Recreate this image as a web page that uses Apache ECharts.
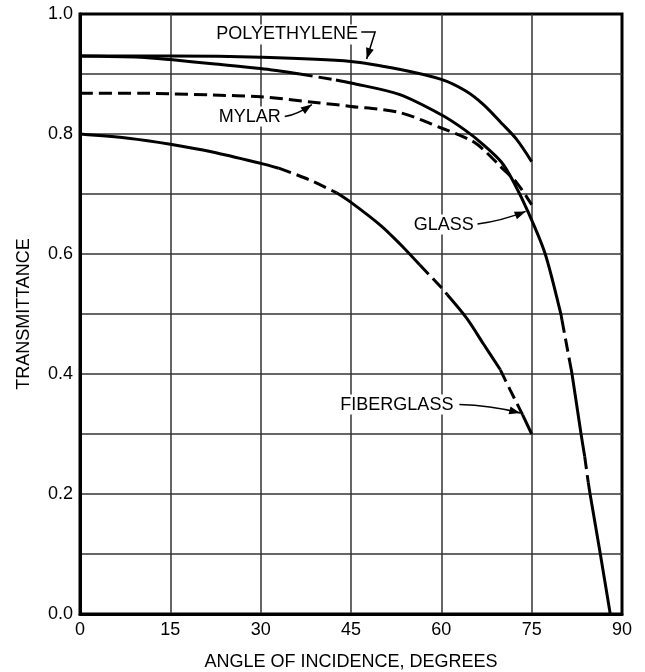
<!DOCTYPE html>
<html><head><meta charset="utf-8">
<script src="https://cdn.jsdelivr.net/npm/echarts@6/dist/echarts.min.js"></script>
<style>html,body{margin:0;padding:0;background:#fff}#c{width:645px;height:672px}</style>
</head><body><div id="c"></div>
<script>
// ---- data (angle in degrees, transmittance) ----
const polyX  = [0, 15, 30, 45, 53, 60, 64, 67, 70, 72.5, 75];
const polyY  = [0.930, 0.930, 0.928, 0.921, 0.908, 0.891, 0.872, 0.849, 0.818, 0.791, 0.754];

const glassX = [0, 10, 15, 22, 30, 36.5, 42.5, 45, 53, 60, 64, 67, 70, 72, 74.5, 77.25, 79.85, 80.03, 81.33, 81.7, 83.2, 83.8, 84.4, 84.7, 86.4, 88.05];
const glassY = [0.930, 0.928, 0.924, 0.917, 0.909, 0.900, 0.890, 0.885, 0.866, 0.832, 0.806, 0.782, 0.753, 0.720, 0.668, 0.600, 0.500, 0.490, 0.420, 0.400, 0.300, 0.263, 0.219, 0.200, 0.100, 0.000];

const mylarX = [0, 10, 15, 22, 30, 38.7, 45, 53, 60, 65, 67, 69.8, 72.5, 75];
const mylarY = [0.868, 0.868, 0.867, 0.865, 0.862, 0.853, 0.846, 0.836, 0.810, 0.789, 0.774, 0.746, 0.719, 0.682];

const fiberX = [0, 8, 15, 22, 30, 33, 38, 42.6, 45, 50, 53.1, 56.4, 60, 61, 64.2, 67, 69.8, 71.4, 73.5, 75];
const fiberY = [0.800, 0.793, 0.783, 0.770, 0.751, 0.743, 0.724, 0.702, 0.686, 0.647, 0.617, 0.582, 0.544, 0.532, 0.493, 0.450, 0.407, 0.374, 0.332, 0.300];

// x-ranges (matching data x values) where the printed curve is dashed
const polyDash  = [];
const glassDash = [[36.5, 42.5], [80.03, 81.33], [83.8, 84.4]];
const mylarDash = [[0, 75]];
const fiberDash = [[33, 42.6], [56.4, 61], [69.8, 73.5]];

const xTicks = {min: 0, max: 90, step: 15};
const yTicks = {min: 0, max: 1, step: 0.1};

const xTitle = 'ANGLE OF INCIDENCE, DEGREES';
const yTitle = 'TRANSMITTANCE';

// annotation labels: text, text anchor [x,y], arrow path in data coords
const notes = [
  {text: 'POLYETHYLENE', at: [22.3, 0.966], path: [[46.7, 0.970], [49.0, 0.970], [47.6, 0.925]], curve: false},
  {text: 'MYLAR',        at: [22.7, 0.829], path: [[34.0, 0.829], [36.0, 0.832], [38.5, 0.849]], curve: true},
  {text: 'GLASS',        at: [55.1, 0.649], path: [[66.0, 0.650], [70.0, 0.655], [74.0, 0.671]], curve: true},
  {text: 'FIBERGLASS',   at: [42.9, 0.349], path: [[63.0, 0.349], [68.0, 0.348], [73.1, 0.335]], curve: true}
];

const FONT = '"Liberation Sans", Arial, Helvetica, sans-serif';

function build(name, xs, ys, dashX) {
  let b = [0, xs.length - 1];
  dashX.forEach(r => { b.push(xs.indexOf(r[0])); b.push(xs.indexOf(r[1])); });
  b = [...new Set(b)].sort((p, q) => p - q);
  const dashedStarts = new Set(dashX.map(r => xs.indexOf(r[0])));
  const out = [];
  for (let k = 0; k < b.length - 1; k++) {
    const i = b[k], j = b[k + 1];
    const data = [];
    for (let m = i; m <= j; m++) data.push([xs[m], ys[m]]);
    out.push({
      type: 'line', name: name, data: data, showSymbol: false, symbol: 'none',
      smooth: 0.3, silent: true, animation: false, z: 3,
      lineStyle: {color: '#000', width: 3, type: dashedStarts.has(i) ? [13, 6] : 'solid', cap: 'butt'}
    });
  }
  return out;
}

const series = [].concat(
  build('POLYETHYLENE', polyX, polyY, polyDash),
  build('GLASS', glassX, glassY, glassDash),
  build('MYLAR', mylarX, mylarY, mylarDash),
  build('FIBERGLASS', fiberX, fiberY, fiberDash)
);

const chart = echarts.init(document.getElementById('c'), null, {renderer: 'canvas'});
chart.setOption({
  backgroundColor: '#fff',
  animation: false,
  grid: {left: 80, right: 23, top: 14, bottom: 58, show: true, borderColor: '#000', borderWidth: 3,
    backgroundColor: 'transparent', containLabel: false, outerBoundsMode: 'none'},
  xAxis: {
    type: 'value', min: xTicks.min, max: xTicks.max, interval: xTicks.step,
    name: xTitle, nameLocation: 'middle', nameGap: 39,
    nameTextStyle: {fontFamily: FONT, fontSize: 18, color: '#000'},
    axisLine: {show: true, lineStyle: {color: '#000', width: 3}},
    axisTick: {show: false},
    axisLabel: {fontFamily: FONT, fontSize: 18, color: '#000', margin: 7},
    splitLine: {show: true, showMinLine: false, showMaxLine: false, lineStyle: {color: '#333', width: 1.5}}
  },
  yAxis: {
    type: 'value', min: yTicks.min, max: yTicks.max, interval: yTicks.step,
    name: yTitle, nameLocation: 'middle', nameGap: 47, nameRotate: 90,
    nameTextStyle: {fontFamily: FONT, fontSize: 18, color: '#000'},
    axisLine: {show: true, lineStyle: {color: '#000', width: 3}},
    axisTick: {show: false},
    axisLabel: {fontFamily: FONT, fontSize: 18, color: '#000', margin: 7,
      formatter: v => (Math.round(v * 10) % 2 === 0 ? v.toFixed(1) : '')},
    splitLine: {show: true, showMinLine: false, showMaxLine: false, lineStyle: {color: '#333', width: 1.5}}
  },
  series: series
});

// annotations
const px = p => chart.convertToPixel({gridIndex: 0}, p);
const els = [];
notes.forEach(n => {
  const a = px(n.at);
  els.push({type: 'text', z: 10, style: {text: n.text, x: a[0], y: a[1], font: '18px ' + FONT, fill: '#000',
    textAlign: 'left', textVerticalAlign: 'middle', backgroundColor: '#fff', padding: [1, 2]}});
  const pts = n.path.map(px);
  if (n.curve) {
    els.push({type: 'bezierCurve', z: 10, shape: {x1: pts[0][0], y1: pts[0][1], cpx1: pts[1][0], cpy1: pts[1][1], x2: pts[2][0], y2: pts[2][1]},
      style: {stroke: '#000', lineWidth: 1.5, fill: null}});
  } else {
    els.push({type: 'polyline', z: 10, shape: {points: pts}, style: {stroke: '#000', lineWidth: 1.5, fill: null}});
  }
  const tip = pts[pts.length - 1], prev = pts[pts.length - 2];
  const dx = tip[0] - prev[0], dy = tip[1] - prev[1], L = Math.hypot(dx, dy);
  const ux = dx / L, uy = dy / L, len = 11, hw = 4;
  const bx = tip[0] - ux * len, by = tip[1] - uy * len;
  els.push({type: 'polygon', z: 11, shape: {points: [tip, [bx - uy * hw, by + ux * hw], [bx + uy * hw, by - ux * hw]]},
    style: {fill: '#000', stroke: null}});
});
chart.setOption({graphic: els});
</script>
</body></html>
